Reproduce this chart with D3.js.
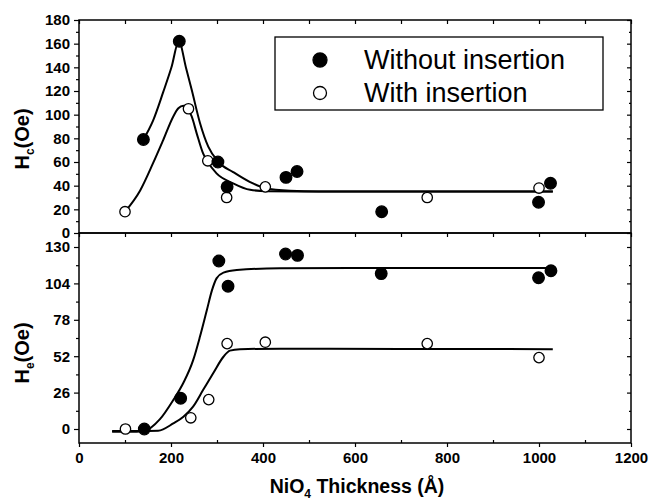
<!DOCTYPE html>
<html lang="en">
<head>
<meta charset="UTF-8">
<script src="https://d3js.org/d3.v7.min.js"></script>
<style>
  body { margin: 0; background: #fff; }
  svg { font-family: "Liberation Sans", Arial, sans-serif; }
  .tick text { font-size: 15px; font-weight: bold; fill: #000; }
  .domain { display: none; }
  .tick line { stroke: #000; stroke-width: 1.2; }
</style>
</head>
<body>
<div id="chart"></div>
<script>
// Hc data points (top panel)
const hcWithoutX = [140, 218, 302, 322, 450, 474, 658, 999, 1025];
const hcWithoutY = [79, 162, 60, 39, 47, 52, 18, 26, 42];
const hcWithX = [100, 238, 280, 321, 405, 757, 1000];
const hcWithY = [18, 105, 61, 30, 39, 30, 38];

// Hc fitted curves
const hcFitWithoutX = [140, 161, 183, 201, 217, 233, 245, 263, 281, 303, 335, 372, 404, 459, 520, 1030];
const hcFitWithoutY = [79, 95, 119, 140, 162, 139, 121, 93, 73, 60, 51.5, 43, 38, 35.6, 35, 35];
const hcFitWithX = [100, 133, 161, 183, 205, 216, 227, 245, 256, 270, 280, 299, 335, 372, 408, 500, 1030];
const hcFitWithY = [18, 36, 59, 78.5, 98.5, 105.4, 107.5, 98.5, 84, 67, 60, 50.4, 42, 36.5, 35.3, 35, 35];

// He data points (bottom panel)
const heWithoutX = [142, 221, 304, 324, 449, 475, 657, 999, 1026];
const heWithoutY = [0, 22, 120, 102, 125, 124, 111, 108, 113];
const heWithX = [101, 243, 282, 322, 405, 757, 1000];
const heWithY = [0, 8, 21, 61, 62, 61, 51];

// He fitted curves
const heFitWithoutX = [72, 110, 140, 176, 205, 227, 248, 263, 278, 289, 299, 314, 343, 437, 700, 1030];
const heFitWithoutY = [-2, -2, -1.6, 7, 20.7, 33, 49, 66, 85, 99, 107.6, 111.7, 113.6, 114.8, 115, 115];
const heFitWithX = [72, 130, 172, 205, 227, 248, 270, 292, 314, 328, 350, 437, 700, 1030];
const heFitWithY = [-1.5, -1.5, -1.2, 4, 8.8, 16, 28, 40, 51.6, 56, 57, 57.4, 57.2, 57];

// Ticks
const xTicks = [0, 200, 400, 600, 800, 1000, 1200];
const xMinor = [100, 300, 500, 700, 900, 1100];
const hcTicks = [0, 20, 40, 60, 80, 100, 120, 140, 160, 180];
const hcMinor = [10, 30, 50, 70, 90, 110, 130, 150, 170];
const heTicks = [0, 26, 52, 78, 104, 130];
const heMinor = [13, 39, 65, 91, 117];

const legendLabels = ["Without insertion", "With insertion"];

const width = 650, height = 502;
const left = 79, right = 631;
const topY0 = 20, topY1 = 233, botY1 = 443;

const svg = d3.select("#chart").append("svg")
  .attr("width", width)
  .attr("height", height);

const x = d3.scaleLinear().domain([0, 1200]).range([left, right]);
const yHc = d3.scaleLinear().domain([0, 180]).range([topY1, topY0]);
const yHe = d3.scaleLinear().domain([-10, 140]).range([botY1, topY1]);

const zip = (xs, ys) => xs.map((v, i) => [v, ys[i]]);

// Axes
function yAxis(scale, ticks, minor) {
  svg.append("g")
    .attr("transform", `translate(${left},0)`)
    .call(d3.axisLeft(scale).tickValues(ticks).tickSize(5).tickPadding(4));
  svg.append("g")
    .attr("transform", `translate(${left},0)`)
    .call(d3.axisLeft(scale).tickValues(minor).tickSize(3).tickFormat(""));
  svg.append("g")
    .attr("transform", `translate(${right},0)`)
    .call(d3.axisLeft(scale).tickValues(ticks).tickSize(4).tickFormat(""));
  svg.append("g")
    .attr("transform", `translate(${right},0)`)
    .call(d3.axisLeft(scale).tickValues(minor).tickSize(2).tickFormat(""));
}
yAxis(yHc, hcTicks, hcMinor);
yAxis(yHe, heTicks, heMinor);

svg.append("g")
  .attr("transform", `translate(0,${botY1})`)
  .call(d3.axisBottom(x).tickValues(xTicks).tickSize(4).tickPadding(5).tickFormat(d3.format("d")));
svg.append("g")
  .attr("transform", `translate(0,${botY1})`)
  .call(d3.axisTop(x).tickValues(xMinor).tickSize(3).tickFormat(""));
svg.append("g")
  .attr("transform", `translate(0,${topY0})`)
  .call(d3.axisBottom(x).tickValues(xTicks.concat(xMinor)).tickSize(4).tickFormat(""));
svg.append("g")
  .attr("transform", `translate(0,${topY1})`)
  .call(d3.axisBottom(x).tickValues(xTicks.concat(xMinor)).tickSize(4).tickFormat(""));

// Frames
[[topY0, topY1], [topY1, botY1]].forEach(([a, b]) => {
  svg.append("rect")
    .attr("x", left).attr("y", a)
    .attr("width", right - left).attr("height", b - a)
    .attr("fill", "none").attr("stroke", "#000").attr("stroke-width", 1.5);
});

// Curves
function curve(xs, ys, yScale) {
  const line = d3.line()
    .x(d => x(d[0]))
    .y(d => yScale(d[1]))
    .curve(d3.curveMonotoneX);
  svg.append("path")
    .datum(zip(xs, ys))
    .attr("d", line)
    .attr("fill", "none")
    .attr("stroke", "#000")
    .attr("stroke-width", 2);
}
curve(hcFitWithoutX, hcFitWithoutY, yHc);
curve(hcFitWithX, hcFitWithY, yHc);
curve(heFitWithoutX, heFitWithoutY, yHe);
curve(heFitWithX, heFitWithY, yHe);

// Points
function points(xs, ys, yScale, filled) {
  svg.append("g").selectAll("circle")
    .data(zip(xs, ys))
    .join("circle")
    .attr("cx", d => x(d[0]))
    .attr("cy", d => yScale(d[1]))
    .attr("r", filled ? 5.8 : 5.2)
    .attr("fill", filled ? "#000" : "#fff")
    .attr("stroke", "#000")
    .attr("stroke-width", 1.3);
}
points(hcWithX, hcWithY, yHc, false);
points(hcWithoutX, hcWithoutY, yHc, true);
points(heWithX, heWithY, yHe, false);
points(heWithoutX, heWithoutY, yHe, true);

// Legend
const legend = svg.append("g");
legend.append("rect")
  .attr("x", 275).attr("y", 37)
  .attr("width", 328).attr("height", 73)
  .attr("fill", "#fff").attr("stroke", "#000").attr("stroke-width", 1.3);
legendLabels.forEach((label, i) => {
  const cy = 60 + i * 33;
  legend.append("circle")
    .attr("cx", 320).attr("cy", cy).attr("r", i === 0 ? 7 : 6.5)
    .attr("fill", i === 0 ? "#000" : "#fff")
    .attr("stroke", "#000").attr("stroke-width", 1.3);
  legend.append("text")
    .attr("x", 364).attr("y", cy + 9)
    .attr("font-size", 27)
    .text(label);
});

// Axis titles
const xTitle = svg.append("text")
  .attr("x", 357).attr("y", 493)
  .attr("text-anchor", "middle")
  .attr("font-size", 19.5)
  .attr("font-weight", "bold");
xTitle.append("tspan").text("NiO");
xTitle.append("tspan").attr("font-size", 12).attr("dy", 5).text("4");
xTitle.append("tspan").attr("dy", -5).text(" Thickness (Å)");

function yTitle(cy, sub) {
  const t = svg.append("text")
    .attr("transform", `translate(29,${cy}) rotate(-90)`)
    .attr("text-anchor", "middle")
    .attr("font-size", 20)
    .attr("font-weight", "bold");
  t.append("tspan").text("H");
  t.append("tspan").attr("font-size", 12).attr("dy", 5).text(sub);
  t.append("tspan").attr("dy", -5).text("(Oe)");
}
yTitle(139, "c");
yTitle(353, "e");
</script>
</body>
</html>
